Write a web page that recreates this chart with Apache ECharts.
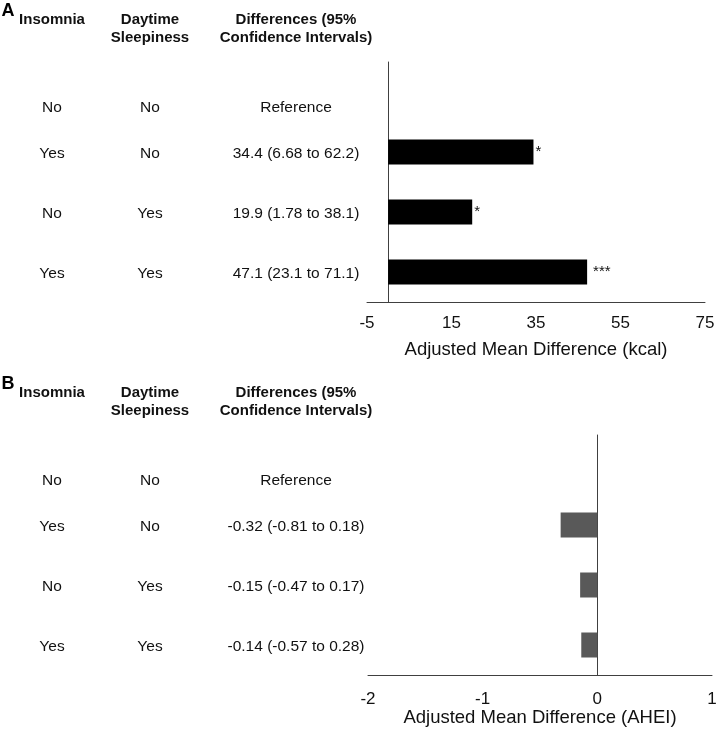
<!DOCTYPE html>
<html><head><meta charset="utf-8">
<script src="https://cdn.jsdelivr.net/npm/echarts@6/dist/echarts.min.js"></script>
<style>html,body{margin:0;padding:0;background:#fff}#c{width:717px;height:735px}</style>
</head><body><div id="c"></div>
<script>
// ---- data ----
const groups = ['g1', 'g2', 'g3', 'g4'];
const insomnia = ['No', 'Yes', 'No', 'Yes'];
const sleepiness = ['No', 'No', 'Yes', 'Yes'];
const kcalDiff = [null, 34.4, 19.9, 47.1];
const kcalCI = ['Reference', '34.4 (6.68 to 62.2)', '19.9 (1.78 to 38.1)', '47.1 (23.1 to 71.1)'];
const kcalSig = ['', '*', '*', '***'];
const aheiDiff = [null, -0.32, -0.15, -0.14];
const aheiCI = ['Reference', '-0.32 (-0.81 to 0.18)', '-0.15 (-0.47 to 0.17)', '-0.14 (-0.57 to 0.28)'];
const kcalAxis = { min: -5, max: 75, interval: 20 };
const aheiAxis = { min: -2, max: 1, interval: 1 };
const panelLetters = ['A', 'B'];
const headerInsomnia = ['Insomnia'];
const headerSleep = ['Daytime', 'Sleepiness'];
const headerCI = ['Differences (95%', 'Confidence Intervals)'];
const axisNames = ['Adjusted Mean Difference (kcal)', 'Adjusted Mean Difference (AHEI)'];

// ---- chart ----
const FONT = '"Liberation Sans", Arial, sans-serif';
const chart = echarts.init(document.getElementById('c'), null, { renderer: 'canvas' });

function valueAxis(idx, spec, gap, margin) {
  return {
    type: 'value', gridIndex: idx, min: spec.min, max: spec.max, interval: spec.interval,
    position: 'bottom',
    splitLine: { show: false }, axisTick: { show: false },
    axisLine: { show: true, onZero: false, lineStyle: { color: '#404040', width: 1 } },
    axisLabel: { color: '#111', fontSize: 17, fontFamily: FONT, margin: margin, showMinLabel: true, showMaxLabel: true },
    name: axisNames[idx], nameLocation: 'middle', nameGap: gap,
    nameTextStyle: { color: '#111', fontSize: 18.5, fontFamily: FONT }
  };
}
function catAxis(idx) {
  return {
    type: 'category', gridIndex: idx, data: groups, inverse: true,
    axisLine: { show: true, onZero: true, lineStyle: { color: '#404040', width: 1 } },
    axisTick: { show: false }, axisLabel: { show: false }, splitLine: { show: false }
  };
}

chart.setOption({
  animation: false,
  backgroundColor: '#fff',
  grid: [
    { left: 367, top: 62, width: 338, height: 240, containLabel: false, outerBoundsMode: 'none' },
    { left: 368, top: 435, width: 344, height: 240, containLabel: false, outerBoundsMode: 'none' }
  ],
  xAxis: [valueAxis(0, kcalAxis, 38, 13), valueAxis(1, aheiAxis, 33, 16)],
  yAxis: [catAxis(0), catAxis(1)],
  series: [
    {
      type: 'bar', xAxisIndex: 0, yAxisIndex: 0, barWidth: 25,
      data: kcalDiff.map((v, i) => ({ value: v, label: { distance: kcalSig[i].length > 1 ? 6 : 2 } })),
      itemStyle: { color: '#000' },
      label: {
        show: true, position: 'right', color: '#111', fontSize: 15, fontFamily: FONT,
        formatter: p => kcalSig[p.dataIndex]
      }
    },
    {
      type: 'bar', xAxisIndex: 1, yAxisIndex: 1, data: aheiDiff, barWidth: 25,
      itemStyle: { color: '#595959' }
    }
  ]
});

// ---- table text (positioned from the category axis) ----
const colX = [52, 150, 296];
const els = [];
function txt(x, y, s, size, bold) {
  els.push({ type: 'text', x: x, y: y, silent: true,
    style: { text: s, fill: '#111', fontSize: size, fontWeight: bold ? 'bold' : 'normal', fontFamily: FONT,
      align: 'center', verticalAlign: 'middle' } });
}
[kcalCI, aheiCI].forEach((ci, p) => {
  const firstY = chart.convertToPixel({ yAxisIndex: p }, groups[0]);
  const gridTop = firstY - 30;
  els.push({ type: 'text', x: 8, y: gridTop - 51, silent: true,
    style: { text: panelLetters[p], fill: '#000', fontSize: 18, fontWeight: 'bold', fontFamily: FONT,
      align: 'center', verticalAlign: 'middle' } });
  [headerInsomnia, headerSleep, headerCI].forEach((h, c) => {
    h.forEach((line, k) => txt(colX[c], gridTop - 42 + k * 18, line, 15, true));
  });
  groups.forEach((g, i) => {
    let y = chart.convertToPixel({ yAxisIndex: p }, g);
    if (i === 0) y += 14;
    txt(colX[0], y + 2, insomnia[i], 15.5, false);
    txt(colX[1], y + 2, sleepiness[i], 15.5, false);
    txt(colX[2], y + 2, ci[i], 15.5, false);
  });
});
chart.setOption({ graphic: els });
</script></body></html>
